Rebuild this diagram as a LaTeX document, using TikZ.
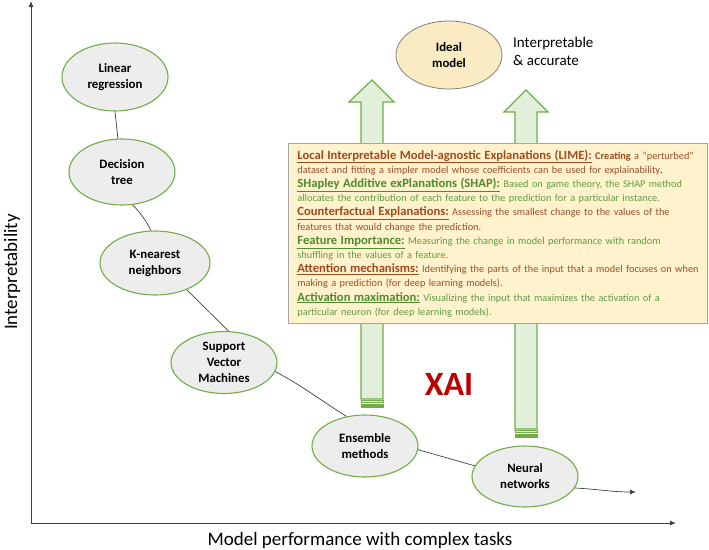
\documentclass[tikz,border=0pt]{standalone}
\usepackage{fontspec}
\setmainfont{Carlito}
\usetikzlibrary{shapes.geometric,arrows.meta}
\definecolor{axisgray}{HTML}{404040}
\definecolor{ellfill}{HTML}{EDEDED}
\definecolor{grn}{HTML}{70AD47}
\definecolor{arrfill}{HTML}{E2EFDA}
\definecolor{idealfill}{HTML}{FAEBC3}
\definecolor{boxfill}{HTML}{FFF2CC}
\definecolor{boxline}{HTML}{A6A6A6}
\definecolor{brhead}{HTML}{A04A1E}
\definecolor{brbody}{HTML}{9A4F2A}
\definecolor{gnhead}{HTML}{4E8A2E}
\definecolor{gnbody}{HTML}{5E9C45}
\definecolor{xaired}{HTML}{C00000}
\newcommand\xhead[1]{{\fontsize{12.6}{14.2}\selectfont\bfseries\underline{#1}}}
\begin{document}
\begin{tikzpicture}[x=1pt,y=-1pt,
  model/.style={ellipse,draw=grn,line width=1.1pt,fill=ellfill,inner sep=0pt,
    minimum width=106pt,minimum height=64pt,align=center,
    font=\fontsize{12.8}{16}\selectfont\bfseries},
  ideal/.style={model,draw=gray,line width=0.8pt,fill=idealfill},
  link/.style={draw=axisgray,line width=0.7pt},
  axis/.style={draw=axisgray,line width=0.9pt,-{Latex[length=6pt,width=5pt]}},
  bigarrow/.style={draw=grn,line width=1.2pt,fill=arrfill,line join=miter},
  stripe/.style={draw=grn,line width=0.8pt,fill=arrfill},
  infobox/.style={draw=boxline,line width=0.9pt,fill=boxfill,anchor=north west,
    minimum width=419pt,minimum height=180pt,text width=401pt,inner xsep=9pt,
    align=left,font=\fontsize{10.3}{14.2}\selectfont}
]
\useasboundingbox (0,0) rectangle (709,549);

% axes
\coordinate (origin) at (31,523);
\coordinate (ytip) at (31,1);
\coordinate (xtip) at (676,523);
\draw[axis] (origin) -- (ytip);
\draw[axis] (origin) -- (xtip);
\node[font=\fontsize{19}{22}\selectfont] (xlab) at (360,540) {Model performance with complex tasks};
\node[font=\fontsize{19}{22}\selectfont,rotate=90] (ylab) at (12,272) {Interpretability};

% big arrows
\draw[bigarrow] (361,399) -- (361,102) -- (349,102) -- (372,80) -- (394,102) -- (383,102) -- (383,399) -- cycle;
\draw[stripe] (361,400.5) rectangle (383,402.5);
\draw[draw=grn,fill=grn,line width=0.6pt] (361,404) rectangle (383,407);
\draw[bigarrow] (515,429) -- (515,112) -- (504,112) -- (526,90) -- (548,112) -- (537,112) -- (537,429) -- cycle;
\draw[stripe] (515,430.5) rectangle (537,432.5);
\draw[draw=grn,fill=grn,line width=0.6pt] (515,434) rectangle (537,437);

% models
\node[model,minimum height=68pt] (lr) at (115,77) {Linear\\regression};
\node[model,minimum height=66pt] (dt) at (122,172) {Decision\\tree};
\node[model,minimum width=110pt] (knn) at (155,263) {K-nearest\\neighbors};
\node[model,minimum height=62pt] (svm) at (224,362.5) {Support\\Vector\\Machines};
\node[model,minimum height=62pt] (ens) at (365,446) {Ensemble\\methods};
\node[model,minimum height=61pt] (nn) at (525,476.5) {Neural\\networks};
\node[ideal,minimum height=68pt] (ideal) at (449,55) {Ideal\\model};
\node[anchor=north west,align=left,font=\fontsize{15}{18}\selectfont,inner sep=0pt] (ia) at (513,37) {Interpretable\\\& accurate};

% links
\coordinate (curveend) at (636,492);
\draw[link] (lr.south) -- (dt.97);
\draw[link] (dt.-72) to[bend left=8] (knn.97);
\draw[link] (knn.-40) -- (svm.82);
\draw[link] (svm.-10) to[out=-28,in=148] (ens.122);
\draw[link] (ens.-4) -- (nn.168);
\draw[link,-{Latex[length=6pt,width=5pt]}] (nn.-13) to[out=-3,in=180] (curveend);

% XAI
\node[font=\fontsize{34}{34}\selectfont\bfseries,text=xaired] (xai) at (449,384) {XAI};

% info box
\node[infobox] (box) at (288,143) {%
\mbox{{\color{brhead}\xhead{Local Interpretable Model-agnostic Explanations (LIME):}} {\color{brhead}\bfseries Creating} {\color{brbody}a “perturbed”}}\\
\mbox{{\color{brbody}dataset and fitting a simpler model whose coefficients can be used for explainability}.}\\
\mbox{{\color{gnhead}\xhead{SHapley Additive exPlanations (SHAP):}} {\color{gnbody}Based on game theory, the SHAP method}}\\
\mbox{{\color{gnbody}allocates the contribution of each feature to the prediction for a particular instance.}}\\
\mbox{{\color{brhead}\xhead{Counterfactual Explanations:}} {\color{brbody}Assessing the smallest change to the values of the}}\\
\mbox{{\color{brbody}features that would change the prediction.}}\\
\mbox{{\color{gnhead}\xhead{Feature Importance:}} {\color{gnbody}Measuring the change in model performance with random}}\\
\mbox{{\color{gnbody}shuffling in the values of a feature.}}\\
\mbox{{\color{brhead}\xhead{Attention mechanisms:}} {\color{brbody}Identifying the parts of the input that a model focuses on when}}\\
\mbox{{\color{brbody}making a prediction (for deep learning models).}}\\
\mbox{{\color{gnhead}\xhead{Activation maximation:}} {\color{gnbody}Visualizing the input that maximizes the activation of a}}\\
\mbox{{\color{gnbody}particular neuron (for deep learning models).}}};
\end{tikzpicture}
\end{document}
